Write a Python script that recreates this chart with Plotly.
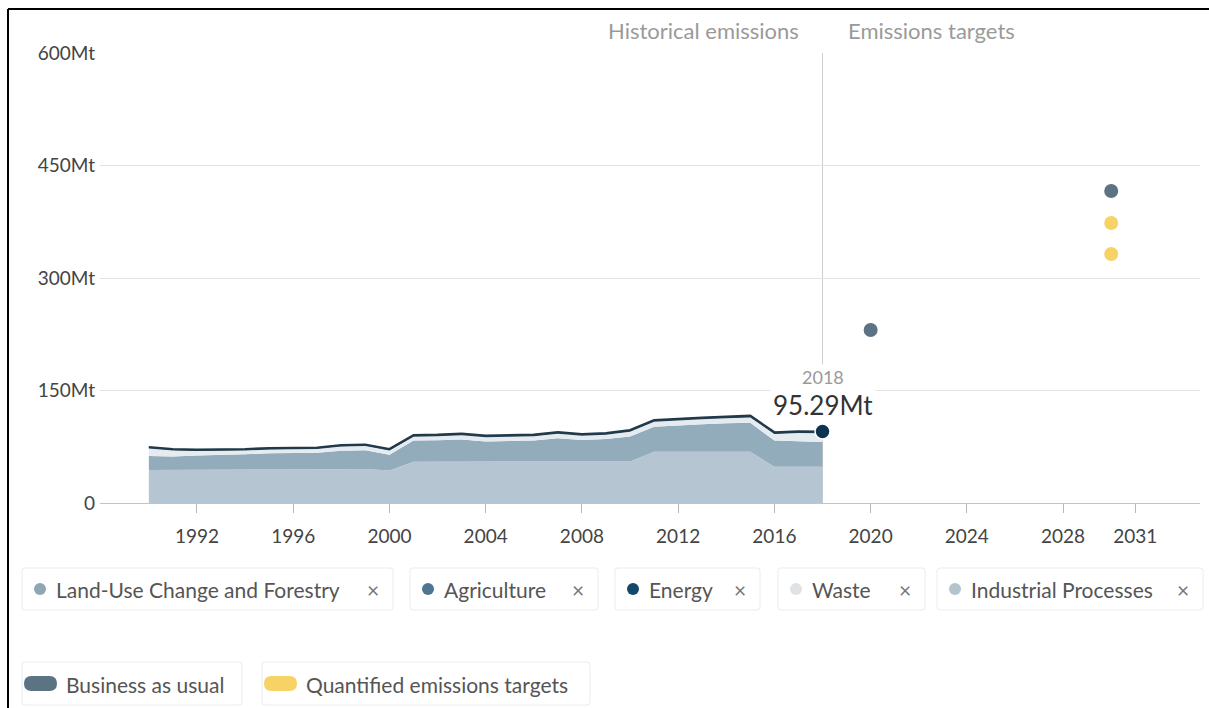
import plotly.graph_objects as go

# ---- data -------------------------------------------------------------
years = list(range(1990, 2019))

industrial = [44.0, 44.0, 44.0, 44.0, 44.0, 44.0, 44.1, 44.2, 45.0, 45.5,
              43.5, 55.0, 55.0, 55.2, 55.0, 55.0, 55.0, 55.5, 55.0, 55.0,
              55.5, 68.4, 68.4, 68.4, 68.4, 68.5, 48.4, 48.4, 48.4]
land_use = [18.7, 18.0, 19.3, 19.8, 21.0, 22.3, 22.2, 22.8, 24.8, 25.0,
            21.0, 28.2, 28.8, 29.5, 27.0, 27.3, 28.3, 30.7, 29.0, 30.3,
            33.3, 33.3, 35.3, 36.6, 37.9, 38.4, 34.9, 34.2, 32.89]
waste = [9.9, 8.0, 6.0, 5.5, 5.0, 5.0, 5.0, 5.0, 5.4, 5.4,
         5.5, 5.3, 5.3, 5.8, 5.8, 5.8, 5.8, 6.2, 5.8, 5.8,
         6.2, 6.6, 6.6, 6.6, 6.6, 7.1, 8.7, 10.7, 11.7]
energy = [2.1, 2.0, 2.0, 2.0, 2.0, 2.0, 2.0, 2.0, 2.1, 2.1,
          2.0, 2.2, 2.2, 2.2, 2.2, 2.2, 2.2, 2.3, 2.2, 2.2,
          2.3, 2.4, 2.4, 2.4, 2.4, 2.4, 2.3, 2.3, 2.3]

bau_years = [2020, 2030]
bau_values = [230.7, 416.0]
target_years = [2030, 2030]
target_values = [373.3, 332.0]

x_ticks = [1992, 1996, 2000, 2004, 2008, 2012, 2016, 2020, 2024, 2028, 2031]
y_ticks = [0, 150, 300, 450, 600]
y_tick_text = ["0", "150Mt", "300Mt", "450Mt", "600Mt"]

sector_names = ["Land-Use Change and Forestry", "Agriculture", "Energy",
                "Waste", "Industrial Processes"]
sector_colors = ["#8ea6b6", "#4d7791", "#14486b", "#dfe3e6", "#b3c4cf"]
scenario_names = ["Business as usual", "Quantified emissions targets"]
scenario_colors = ["#5c7384", "#f7d366"]

# ---- geometry ---------------------------------------------------------
W, H = 1209, 708
ML, MR, MT, MB = 100, 9, 53, 205
PW, PH = W - ML - MR, H - MT - MB
FONT = "Lato"


def fx(p):
    return (p - ML) / PW


def fy(p):
    return (MT + PH - p) / PH


def rrect(x0, y0, x1, y1, r):
    pts = [("M", x0 + r, y0), ("L", x1 - r, y0), ("Q", x1, y0, x1, y0 + r),
           ("L", x1, y1 - r), ("Q", x1, y1, x1 - r, y1), ("L", x0 + r, y1),
           ("Q", x0, y1, x0, y1 - r), ("L", x0, y0 + r), ("Q", x0, y0, x0 + r, y0)]
    out = []
    for p in pts:
        cmd, coords = p[0], p[1:]
        pairs = [f"{fx(coords[i]):.5f},{fy(coords[i + 1]):.5f}" for i in range(0, len(coords), 2)]
        out.append(cmd + " " + " ".join(pairs))
    return " ".join(out) + " Z"


fig = go.Figure()

# stacked historical emissions
fig.add_trace(go.Scatter(x=years, y=industrial, stackgroup="hist", mode="lines",
                         line=dict(width=0, color="#b5c6d2"), fillcolor="#b5c6d2",
                         hoverinfo="skip", showlegend=False))
fig.add_trace(go.Scatter(x=years, y=land_use, stackgroup="hist", mode="lines",
                         line=dict(width=0, color="#93acbc"), fillcolor="#93acbc",
                         hoverinfo="skip", showlegend=False))
fig.add_trace(go.Scatter(x=years, y=waste, stackgroup="hist", mode="lines",
                         line=dict(width=0, color="#e4ecf1"), fillcolor="#e4ecf1",
                         hoverinfo="skip", showlegend=False))
fig.add_trace(go.Scatter(x=years, y=energy, stackgroup="hist", mode="lines",
                         line=dict(width=2.2, color="#22394a"), fillcolor="#2a4254",
                         hoverinfo="skip", showlegend=False))

# highlighted last year
total_last = industrial[-1] + land_use[-1] + waste[-1] + energy[-1]
fig.add_trace(go.Scatter(x=[years[-1]], y=[total_last], mode="markers",
                         marker=dict(size=15, color="#0d3350", line=dict(width=1.5, color="white")),
                         hoverinfo="skip", showlegend=False))

# scenario points
fig.add_trace(go.Scatter(x=bau_years, y=bau_values, mode="markers",
                         marker=dict(size=14, color=scenario_colors[0]),
                         hoverinfo="skip", showlegend=False))
fig.add_trace(go.Scatter(x=target_years, y=target_values, mode="markers",
                         marker=dict(size=14, color=scenario_colors[1]),
                         hoverinfo="skip", showlegend=False))

shapes = []
annotations = []

# divider between history and targets
shapes.append(dict(type="line", xref="x", yref="y", x0=years[-1], x1=years[-1],
                   y0=0, y1=600, line=dict(color="#cfcfcf", width=1), layer="below"))

annotations.append(dict(x=years[-1], y=168, xref="x", yref="y", text=str(years[-1]),
                        showarrow=False, font=dict(family=FONT, size=18, color="#9a9a9a"),
                        bgcolor="white", xanchor="center", yanchor="middle"))
annotations.append(dict(x=years[-1], y=131, xref="x", yref="y", text=f"{total_last:.2f}Mt",
                        showarrow=False, font=dict(family=FONT, size=26, color="#333333"),
                        bgcolor="white", borderpad=2, xanchor="center", yanchor="middle"))

annotations.append(dict(x=fx(703), y=fy(30), xref="paper", yref="paper",
                        text="Historical emissions", showarrow=False,
                        font=dict(family=FONT, size=22, color="#9a9a9a"),
                        xanchor="center", yanchor="middle"))
annotations.append(dict(x=fx(931), y=fy(30), xref="paper", yref="paper",
                        text="Emissions targets", showarrow=False,
                        font=dict(family=FONT, size=22, color="#9a9a9a"),
                        xanchor="center", yanchor="middle"))

# sector chips
chip_boxes = [(22, 393), (410, 598), (615, 760), (778, 925), (937, 1203)]
for name, color, (cx0, cx1) in zip(sector_names, sector_colors, chip_boxes):
    cy0, cy1 = 568, 610
    shapes.append(dict(type="path", xref="paper", yref="paper", path=rrect(cx0, cy0, cx1, cy1, 3),
                       line=dict(color="#e8ecef", width=1), fillcolor="white"))
    dx = cx0 + 18
    shapes.append(dict(type="circle", xref="paper", yref="paper",
                       x0=fx(dx - 6), x1=fx(dx + 6), y0=fy(589 + 6), y1=fy(589 - 6),
                       line=dict(width=0), fillcolor=color))
    annotations.append(dict(x=fx(dx + 14), y=fy(589), xref="paper", yref="paper",
                            text=name, showarrow=False, xanchor="left", yanchor="middle",
                            font=dict(family=FONT, size=21, color="#555555")))
    annotations.append(dict(x=fx(cx1 - 20), y=fy(589), xref="paper", yref="paper",
                            text="×", showarrow=False, xanchor="center", yanchor="middle",
                            font=dict(family=FONT, size=21, color="#777777")))

# scenario chips
scen_boxes = [(22, 242), (262, 590)]
for name, color, (cx0, cx1) in zip(scenario_names, scenario_colors, scen_boxes):
    cy0, cy1 = 662, 705
    shapes.append(dict(type="path", xref="paper", yref="paper", path=rrect(cx0, cy0, cx1, cy1, 3),
                       line=dict(color="#e8ecef", width=1), fillcolor="white"))
    shapes.append(dict(type="path", xref="paper", yref="paper",
                       path=rrect(cx0 + 2, 676, cx0 + 35, 691, 7.5),
                       line=dict(width=0), fillcolor=color))
    annotations.append(dict(x=fx(cx0 + 42), y=fy(684), xref="paper", yref="paper",
                            text=name, showarrow=False, xanchor="left", yanchor="middle",
                            font=dict(family=FONT, size=21, color="#555555")))

# frame on top and left
shapes.append(dict(type="line", xref="paper", yref="paper", x0=fx(8), x1=fx(W),
                   y0=fy(9), y1=fy(9), line=dict(color="black", width=2)))
shapes.append(dict(type="line", xref="paper", yref="paper", x0=fx(8), x1=fx(8),
                   y0=fy(9), y1=fy(H), line=dict(color="black", width=2)))

fig.update_layout(
    width=W, height=H,
    margin=dict(l=ML, r=MR, t=MT, b=MB),
    paper_bgcolor="white", plot_bgcolor="white",
    font=dict(family=FONT, size=16, color="#444444"),
    showlegend=False,
    shapes=shapes,
    annotations=annotations,
    xaxis=dict(range=[1987.97, 2033.69], tickvals=x_ticks, ticktext=[str(t) for t in x_ticks],
               showgrid=False, zeroline=False, showline=True, linecolor="#c4c4c4",
               ticks="outside", ticklen=9, tickcolor="#b8b8b8", tickwidth=1,
               ticklabelstandoff=7,
               tickfont=dict(family=FONT, size=19, color="#444444")),
    yaxis=dict(range=[0, 600], tickvals=y_ticks, ticktext=y_tick_text,
               showgrid=True, gridcolor="#e3e3e3", zeroline=False, showline=False,
               ticks="", ticklabelstandoff=4,
               tickfont=dict(family=FONT, size=19, color="#444444")),
)

fig.write_html("out.html")
